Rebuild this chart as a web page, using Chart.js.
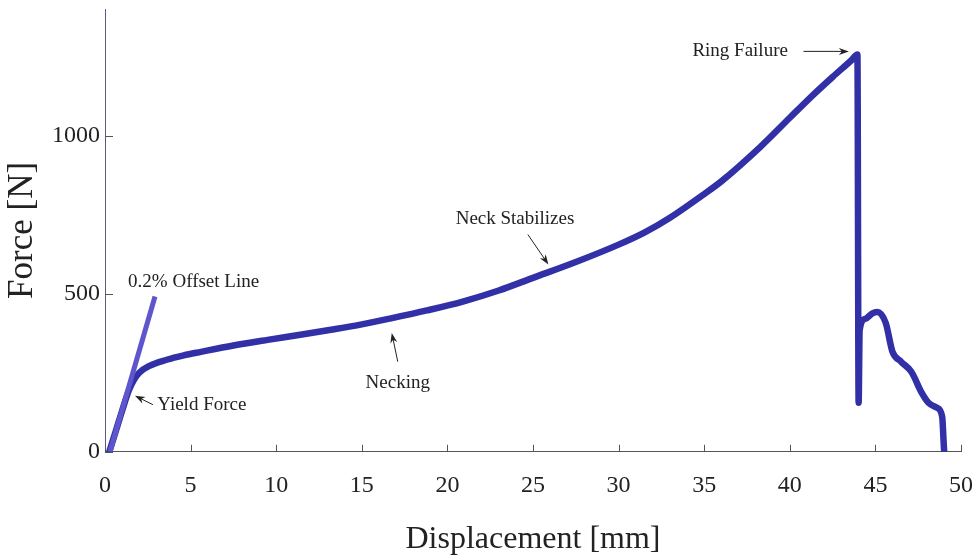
<!DOCTYPE html>
<html>
<head>
<meta charset="utf-8">
<script src="https://cdn.jsdelivr.net/npm/chart.js@4.4.1/dist/chart.umd.min.js"></script>
<style>
  html, body { margin: 0; padding: 0; background: #fff; }
  #wrap { width: 976px; height: 559px; }
</style>
</head>
<body>
<div id="wrap"><canvas id="forceChart"></canvas></div>
<script>
const CHART = document.getElementById('forceChart');

// ring pull test: displacement [mm] vs force [N]
var dispMm = [0.25, 0.6, 1.0, 1.4, 1.7, 2.0, 2.6, 3.6, 4.6, 5.6, 7.5, 9.5, 11.5, 13.2, 15.0,
              16.7, 18.8, 20.9, 23.0, 25.0, 27.5, 30.0, 31.5, 33.0, 35.0, 36.0, 38.3, 40.0,
              41.2, 42.5, 43.6, 43.95, 44.02, 44.08, 44.4, 44.8, 45.1, 45.6, 46.0, 46.5, 47.1, 47.7,
              48.1, 48.6, 48.9, 49.0, 49.02];
var forceN = [0, 60, 130, 195, 228, 250, 272, 291, 305, 316, 336, 354, 371, 386, 403,
              422, 447, 475, 510, 550, 600, 655, 693, 740, 815, 855, 965, 1056,
              1120, 1185, 1238, 1256, 155, 385, 420, 437, 442, 408, 316, 285, 253, 187,
              155, 139, 111, 16, 0];

// 0.2% offset line
var offsetDisp = [0.29, 2.92];
var offsetForce = [0, 491];

var xTicks = [0, 5, 10, 15, 20, 25, 30, 35, 40, 45, 50];
var yTicks = [0, 500, 1000];

// text labels and arrows, in data units
var notes = [
  { text: '0.2% Offset Line', x: 1.35, y: 538, align: 'left' },
  { text: 'Yield Force', x: 3.05, y: 149, align: 'left' },
  { text: 'Necking', x: 17.1, y: 218, align: 'center' },
  { text: 'Neck Stabilizes', x: 23.95, y: 737, align: 'center' },
  { text: 'Ring Failure', x: 37.1, y: 1266, align: 'center' }
];
var arrows = [
  { x0: 2.8, y0: 149, x1: 1.75, y1: 177 },
  { x0: 17.1, y0: 285, x1: 16.75, y1: 376 },
  { x0: 24.7, y0: 687, x1: 25.9, y1: 592 },
  { x0: 40.8, y0: 1266, x1: 43.45, y1: 1266 }
];

function pairs(xs, ys) {
  return xs.map(function(x, i) { return { x: x, y: ys[i] }; });
}

// tick padding should not push the plot edges in
function noEdgePadding(scale) {
  scale.paddingLeft = 0;
  scale.paddingRight = 0;
  scale.paddingTop = 0;
  scale.paddingBottom = 0;
}

var SERIF = "'Liberation Serif', 'DejaVu Serif', serif";

// short tick marks pointing into the plot, plus the annotations
var extras = {
  id: 'extras',
  afterDraw: function(chart) {
    var ctx = chart.ctx;
    var xs = chart.scales.x, ys = chart.scales.y;
    var area = chart.chartArea;
    ctx.save();
    ctx.strokeStyle = '#555';
    ctx.lineWidth = 1;
    xs.ticks.forEach(function(t) {
      var px = Math.round(xs.getPixelForValue(t.value)) + 0.5;
      ctx.beginPath();
      ctx.moveTo(px, area.bottom);
      ctx.lineTo(px, area.bottom - 7);
      ctx.stroke();
    });
    ys.ticks.forEach(function(t) {
      var py = Math.round(ys.getPixelForValue(t.value)) + 0.5;
      ctx.beginPath();
      ctx.moveTo(area.left, py);
      ctx.lineTo(area.left + 8, py);
      ctx.stroke();
    });

    ctx.fillStyle = '#222';
    ctx.font = '19px ' + SERIF;
    ctx.textBaseline = 'middle';
    notes.forEach(function(n) {
      ctx.textAlign = n.align;
      ctx.fillText(n.text, xs.getPixelForValue(n.x), ys.getPixelForValue(n.y));
    });

    ctx.strokeStyle = '#222';
    ctx.lineWidth = 1;
    arrows.forEach(function(a) {
      var x0 = xs.getPixelForValue(a.x0), y0 = ys.getPixelForValue(a.y0);
      var x1 = xs.getPixelForValue(a.x1), y1 = ys.getPixelForValue(a.y1);
      var ang = Math.atan2(y1 - y0, x1 - x0);
      ctx.beginPath();
      ctx.moveTo(x0, y0);
      ctx.lineTo(x1 - 6 * Math.cos(ang), y1 - 6 * Math.sin(ang));
      ctx.stroke();
      ctx.beginPath();
      ctx.moveTo(x1, y1);
      ctx.lineTo(x1 - 10 * Math.cos(ang) + 3.5 * Math.sin(ang), y1 - 10 * Math.sin(ang) - 3.5 * Math.cos(ang));
      ctx.lineTo(x1 - 7 * Math.cos(ang), y1 - 7 * Math.sin(ang));
      ctx.lineTo(x1 - 10 * Math.cos(ang) - 3.5 * Math.sin(ang), y1 - 10 * Math.sin(ang) + 3.5 * Math.cos(ang));
      ctx.closePath();
      ctx.fillStyle = '#222';
      ctx.fill();
    });
    ctx.restore();
  }
};

var forceChart = new Chart(CHART, {
  type: 'scatter',
  data: {
    datasets: [
      {
        label: '0.2% Offset Line',
        data: pairs(offsetDisp, offsetForce),
        showLine: true,
        borderColor: '#5f55cd',
        borderWidth: 5,
        pointRadius: 0,
        borderCapStyle: 'butt'
      },
      {
        label: 'Force',
        data: pairs(dispMm, forceN),
        showLine: true,
        borderColor: '#3230a6',
        borderWidth: 6.5,
        pointRadius: 0,
        cubicInterpolationMode: 'monotone',
        borderJoinStyle: 'round',
        borderCapStyle: 'round'
      }
    ]
  },
  options: {
    responsive: true,
    maintainAspectRatio: false,
    animation: false,
    layout: { padding: { left: 0, right: 15, top: 9, bottom: 0 } },
    plugins: {
      legend: { display: false },
      tooltip: { enabled: false }
    },
    scales: {
      x: {
        type: 'linear',
        min: 0,
        max: 50,
        afterBuildTicks: function(scale) {
          scale.ticks = xTicks.map(function(v) { return { value: v }; });
        },
        afterFit: noEdgePadding,
        grid: { display: false, drawTicks: false },
        border: { display: true, color: '#555', width: 1 },
        ticks: {
          padding: 20,
          color: '#222',
          font: { family: SERIF, size: 24 },
          callback: function(v) { return String(v); }
        },
        title: {
          display: true,
          text: 'Displacement [mm]',
          color: '#222',
          font: { family: SERIF, size: 32 },
          padding: { top: 0, bottom: 0 }
        }
      },
      y: {
        type: 'linear',
        min: 0,
        max: 1400,
        afterBuildTicks: function(scale) {
          scale.ticks = yTicks.map(function(v) { return { value: v }; });
        },
        afterFit: noEdgePadding,
        grid: { display: false, drawTicks: false },
        border: { display: true, color: '#5a5a88', width: 1 },
        ticks: {
          padding: 5,
          color: '#222',
          font: { family: SERIF, size: 24 },
          callback: function(v) { return String(v); }
        },
        title: {
          display: true,
          text: 'Force [N]',
          color: '#222',
          font: { family: SERIF, size: 35 },
          padding: { top: 2, bottom: 3 }
        }
      }
    }
  },
  plugins: [extras]
});
</script>
</body>
</html>
